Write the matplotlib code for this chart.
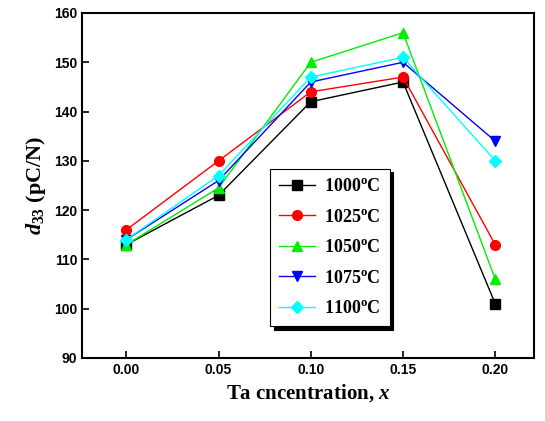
import matplotlib
matplotlib.use("Agg")
import matplotlib.pyplot as plt

plt.rcParams['mathtext.fontset'] = 'custom'
plt.rcParams['mathtext.rm'] = 'Liberation Serif:bold'
plt.rcParams['mathtext.it'] = 'Liberation Serif:bold:italic'
plt.rcParams['mathtext.bf'] = 'Liberation Serif:bold'

x = [0.00, 0.05, 0.10, 0.15, 0.20]
d1000 = [113, 123, 142, 146, 101]
d1025 = [116, 130, 144, 147, 113]
d1050 = [113, 124.5, 150, 156, 106]
d1075 = [114, 126, 146, 150, 134]
d1100 = [114, 127, 147, 151, 130]
labels = ['1000', '1025', '1050', '1075', '1100']
colors = ['black', 'red', '#00ee00', 'blue', 'cyan']
markers = ['s', 'o', '^', 'v', 'D']

fig = plt.figure(figsize=(5.45, 4.21), dpi=100)
ax = fig.add_axes([82/545, 1-358/421, (534-82)/545, (358-13)/421])

for ys, lab, c, m in zip([d1000, d1025, d1050, d1075, d1100], labels, colors, markers):
	ms = 6 if m == 'D' else 7
	ax.plot(x, ys, color=c, marker=m, markersize=ms, linewidth=1,
		label=lab + r'$^{\mathrm{o}}$C')

ax.set_xlim(-0.024, 0.221)
ax.set_ylim(90, 160)
ax.set_xticks(x)
ax.set_xticklabels(['0.00', '0.05', '0.10', '0.15', '0.20'])
ax.tick_params(direction='in', length=5, width=1.2, labelsize=10)
for t in ax.get_xticklabels() + ax.get_yticklabels():
	t.set_fontweight('bold')
	t.set_family('Liberation Sans')
for s in ax.spines.values():
	s.set_linewidth(1.5)

ax.set_xlabel(r'Ta cncentration, $x$', family='Liberation Serif', fontweight='bold', fontsize=15)
ax.set_ylabel(r'$d_{\mathit{33}}$ (pC/N)', family='Liberation Serif', fontweight='bold', fontsize=16)

leg = ax.legend(loc='center', bbox_to_anchor=(0.549, 0.32),
	shadow={'color': 'black', 'alpha': 1, 'ox': 2.5, 'oy': -2.5}, fancybox=False,
	edgecolor='black', prop={'family': 'Liberation Serif', 'weight': 'bold', 'size': 13},
	handlelength=2.0, handletextpad=0.5, labelspacing=0.75, borderpad=0.5)
leg.get_frame().set_linewidth(0.8)

plt.savefig('out.png', dpi=100)
